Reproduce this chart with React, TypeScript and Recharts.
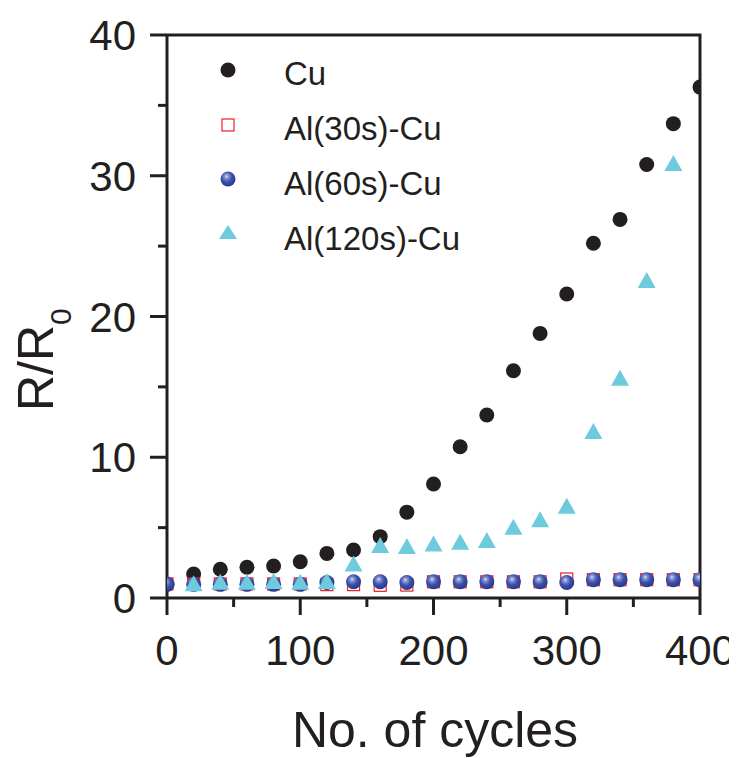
import React from 'react';
import { ScatterChart, Scatter, XAxis, YAxis, ReferenceArea } from 'recharts';

const cycles = [0, 20, 40, 60, 80, 100, 120, 140, 160, 180, 200, 220, 240, 260, 280, 300, 320, 340, 360, 380, 400];
const cuValues = [1.0, 1.7, 2.04, 2.18, 2.27, 2.58, 3.17, 3.41, 4.36, 6.1, 8.1, 10.75, 13.0, 16.15, 18.8, 21.6, 25.2, 26.9, 30.8, 33.7, 36.3];
const al30Values = [1.0, 1.0, 1.0, 1.0, 1.0, 1.0, 0.95, 0.95, 0.9, 0.92, 1.15, 1.15, 1.15, 1.15, 1.15, 1.35, 1.3, 1.3, 1.3, 1.3, 1.3];
const al60Values = [0.97, 0.97, 0.97, 0.97, 0.97, 0.97, 1.1, 1.15, 1.15, 1.1, 1.15, 1.15, 1.15, 1.15, 1.15, 1.1, 1.3, 1.3, 1.3, 1.3, 1.3];
const al120Values: (number | null)[] = [null, 1.04, 1.16, 1.16, 1.2, 1.16, 1.2, 2.46, 3.77, 3.7, 3.88, 4.0, 4.12, 5.07, 5.6, 6.56, 11.87, 15.65, 22.6, 30.9, null];

const seriesNames = ['Cu', 'Al(30s)-Cu', 'Al(60s)-Cu', 'Al(120s)-Cu'];
const xTicks = [0, 100, 200, 300, 400];
const xMinorTicks = [50, 150, 250, 350];
const yTicks = [0, 10, 20, 30, 40];
const yMinorTicks = [5, 15, 25, 35];

const toPoints = (vals: (number | null)[]) =>
  cycles.map((c, i) => ({ x: c, y: vals[i] })).filter((p) => p.y !== null);

const cuData = toPoints(cuValues);
const al30Data = toPoints(al30Values);
const al60Data = toPoints(al60Values);
const al120Data = toPoints(al120Values);

const INK = '#231f20';
const CYAN = '#6dcbdd';
const RED = '#ed1c24';
const FONT = '"Liberation Sans", Arial, Helvetica, sans-serif';
const TICK_LINE = { stroke: INK, strokeWidth: 3 };

const DotShape = (p: any) => <circle cx={p.cx} cy={p.cy} r={7.5} fill={INK} />;
const SquareShape = (p: any) => (
  <rect x={p.cx - 6} y={p.cy - 6} width={12} height={12} fill="none" stroke={RED} strokeWidth={1.2} />
);
const SphereShape = (p: any) => <circle cx={p.cx} cy={p.cy} r={7.5} fill="url(#sphereGrad)" />;
const TriShape = (p: any) => (
  <path d={`M${p.cx},${p.cy - 8} L${p.cx + 9},${p.cy + 8} L${p.cx - 9},${p.cy + 8} Z`} fill={CYAN} />
);

// plot area in svg coords: left 159, top 27, right 692, bottom 590
const XTick = (p: any) => (
  <text x={p.x} y={657} textAnchor="middle" fontSize={42} fill={INK} fontFamily={FONT}>
    {p.payload.value}
  </text>
);
const YTick = (p: any) => (
  <text x={128} y={p.y} dy={15} textAnchor="end" fontSize={42} fill={INK} fontFamily={FONT}>
    {p.payload.value}
  </text>
);
const Empty = () => <g />;

export default function App() {
  return (
    <div style={{ position: 'relative', width: 729, height: 750, fontFamily: FONT }}>
      <ScatterChart width={729} height={750} margin={{ top: 27, right: 37, bottom: 80, left: 80 }}>
        <XAxis
          xAxisId={0}
          type="number"
          dataKey="x"
          domain={[0, 400]}
          ticks={xMinorTicks}
          allowDataOverflow
          height={1}
          tickSize={9}
          tickMargin={0}
          axisLine={false}
          tickLine={TICK_LINE}
          tick={<Empty />}
        />
        <XAxis
          xAxisId="main"
          type="number"
          dataKey="x"
          domain={[0, 400]}
          ticks={xTicks}
          allowDataOverflow
          height={79}
          tickSize={16}
          tickMargin={0}
          axisLine={false}
          tickLine={TICK_LINE}
          tick={<XTick />}
        />
        <YAxis
          yAxisId={0}
          type="number"
          dataKey="y"
          domain={[0, 40]}
          ticks={yMinorTicks}
          allowDataOverflow
          width={1}
          tickSize={9}
          tickMargin={0}
          axisLine={false}
          tickLine={TICK_LINE}
          tick={<Empty />}
        />
        <YAxis
          yAxisId="main"
          type="number"
          dataKey="y"
          domain={[0, 40]}
          ticks={yTicks}
          allowDataOverflow
          width={78}
          tickSize={16}
          tickMargin={0}
          axisLine={false}
          tickLine={TICK_LINE}
          tick={<YTick />}
        />
        <Scatter name={seriesNames[0]} data={cuData} xAxisId="main" yAxisId="main" shape={DotShape} isAnimationActive={false} />
        <Scatter name={seriesNames[1]} data={al30Data} xAxisId="main" yAxisId="main" shape={SquareShape} isAnimationActive={false} />
        <Scatter name={seriesNames[2]} data={al60Data} xAxisId="main" yAxisId="main" shape={SphereShape} isAnimationActive={false} />
        <Scatter name={seriesNames[3]} data={al120Data} xAxisId="main" yAxisId="main" shape={TriShape} isAnimationActive={false} />
        <ReferenceArea
          xAxisId="main"
          yAxisId="main"
          x1={0}
          x2={400}
          y1={0}
          y2={40}
          fill="none"
          fillOpacity={0}
          stroke={INK}
          strokeWidth={3}
          ifOverflow="visible"
        />
      </ScatterChart>
      <svg
        width={729}
        height={750}
        style={{ position: 'absolute', left: 0, top: 0, pointerEvents: 'none' }}
      >
        <defs>
          <radialGradient id="sphereGrad" cx="0.42" cy="0.38" r="0.62" fx="0.4" fy="0.32">
            <stop offset="0%" stopColor="#e4e8fa" />
            <stop offset="18%" stopColor="#8e9bd8" />
            <stop offset="55%" stopColor="#3d52ad" />
            <stop offset="100%" stopColor="#27388a" />
          </radialGradient>
        </defs>
        {/* legend */}
        <circle cx={220} cy={62} r={7.5} fill={INK} />
        <text x={276} y={77} fontSize={33} fill={INK} fontFamily={FONT}>{seriesNames[0]}</text>
        <rect x={214} y={111} width={12} height={12} fill="none" stroke={RED} strokeWidth={1.2} />
        <text x={276} y={132} fontSize={33} fill={INK} fontFamily={FONT}>{seriesNames[1]}</text>
        <circle cx={220} cy={171} r={7.5} fill="url(#sphereGrad)" />
        <text x={276} y={187} fontSize={33} fill={INK} fontFamily={FONT}>{seriesNames[2]}</text>
        <path d="M220,217 L229,231 L211,231 Z" fill={CYAN} />
        <text x={276} y={242} fontSize={33} fill={INK} fontFamily={FONT}>{seriesNames[3]}</text>
        {/* axis titles */}
        <text x={427} y={739} fontSize={50} textAnchor="middle" fill={INK} fontFamily={FONT}>
          No. of cycles
        </text>
        <text
          transform="translate(45,403) rotate(-90)"
          fontSize={50}
          fill={INK}
          fontFamily={FONT}
        >
          R/R
          <tspan fontSize={30} dy={18}>0</tspan>
        </text>
      </svg>
    </div>
  );
}
